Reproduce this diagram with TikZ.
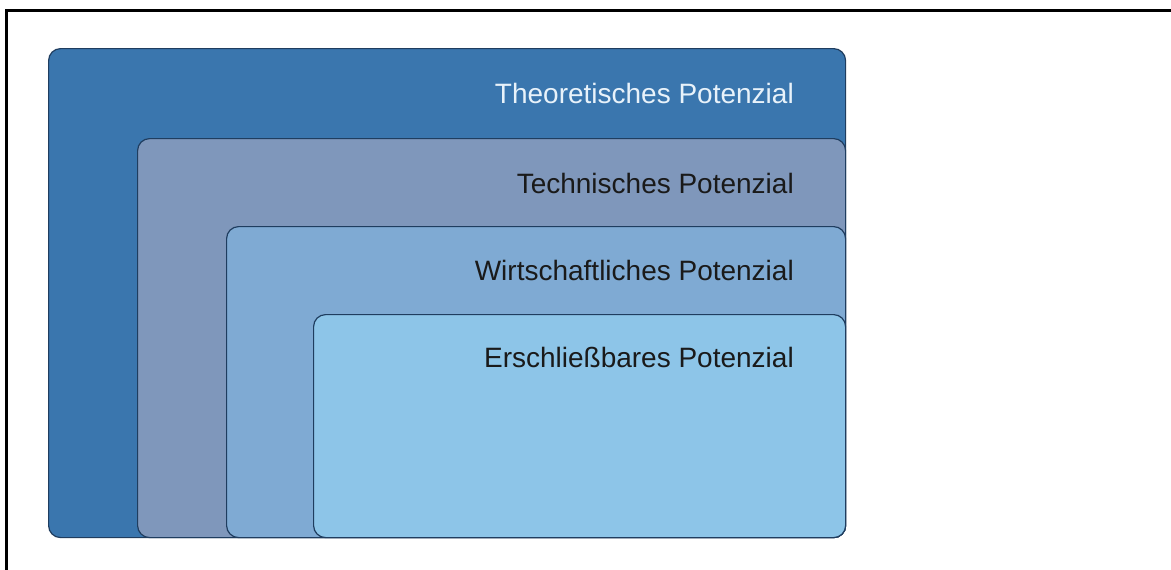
\documentclass[tikz,border=0pt]{standalone}
\usepackage{fontspec}
\setmainfont{Liberation Sans}
\definecolor{cTheo}{HTML}{3A76AE}
\definecolor{cTech}{HTML}{7F97BB}
\definecolor{cWirt}{HTML}{7FAAD3}
\definecolor{cErsch}{HTML}{8DC5E8}
\definecolor{cEdge}{HTML}{1F3D5F}
\definecolor{cLight}{HTML}{E8F2FA}
\definecolor{cDark}{HTML}{1A1A1A}
\tikzset{
  layer/.style={rectangle, rounded corners=12pt, draw=cEdge, line width=1.2pt, anchor=north west, inner sep=0pt},
  lbl/.style={anchor=east, inner sep=0pt, font=\fontsize{28}{32}\selectfont},
  frameline/.style={line width=3pt, black}
}
\begin{document}
\begin{tikzpicture}[x=1pt,y=-1pt]
\useasboundingbox (0,0) rectangle (1171,570);
\fill[white] (0,0) rectangle (1171,570);
\coordinate (fTL) at (6,10);
\coordinate (fTR) at (1171,10);
\coordinate (fBL) at (6,570);
\draw[frameline] (fBL) -- (fTL) -- (fTR);
\node[layer, fill=cTheo, minimum width=797pt, minimum height=489pt] (theo) at (48,48) {};
\node[layer, fill=cTech, minimum width=708pt, minimum height=399pt] (tech) at (137,138) {};
\node[layer, fill=cWirt, minimum width=619pt, minimum height=311pt] (wirt) at (226,226) {};
\node[layer, fill=cErsch, minimum width=532pt, minimum height=223pt] (ersch) at (313,314) {};
\node[lbl, text=cLight] (ltheo) at (794,93) {Theoretisches Potenzial};
\node[lbl, text=cDark] (ltech) at (794,183) {Technisches Potenzial};
\node[lbl, text=cDark] (lwirt) at (794,270) {Wirtschaftliches Potenzial};
\node[lbl, text=cDark] (lersch) at (794,357) {Erschließbares Potenzial};
\end{tikzpicture}
\end{document}
